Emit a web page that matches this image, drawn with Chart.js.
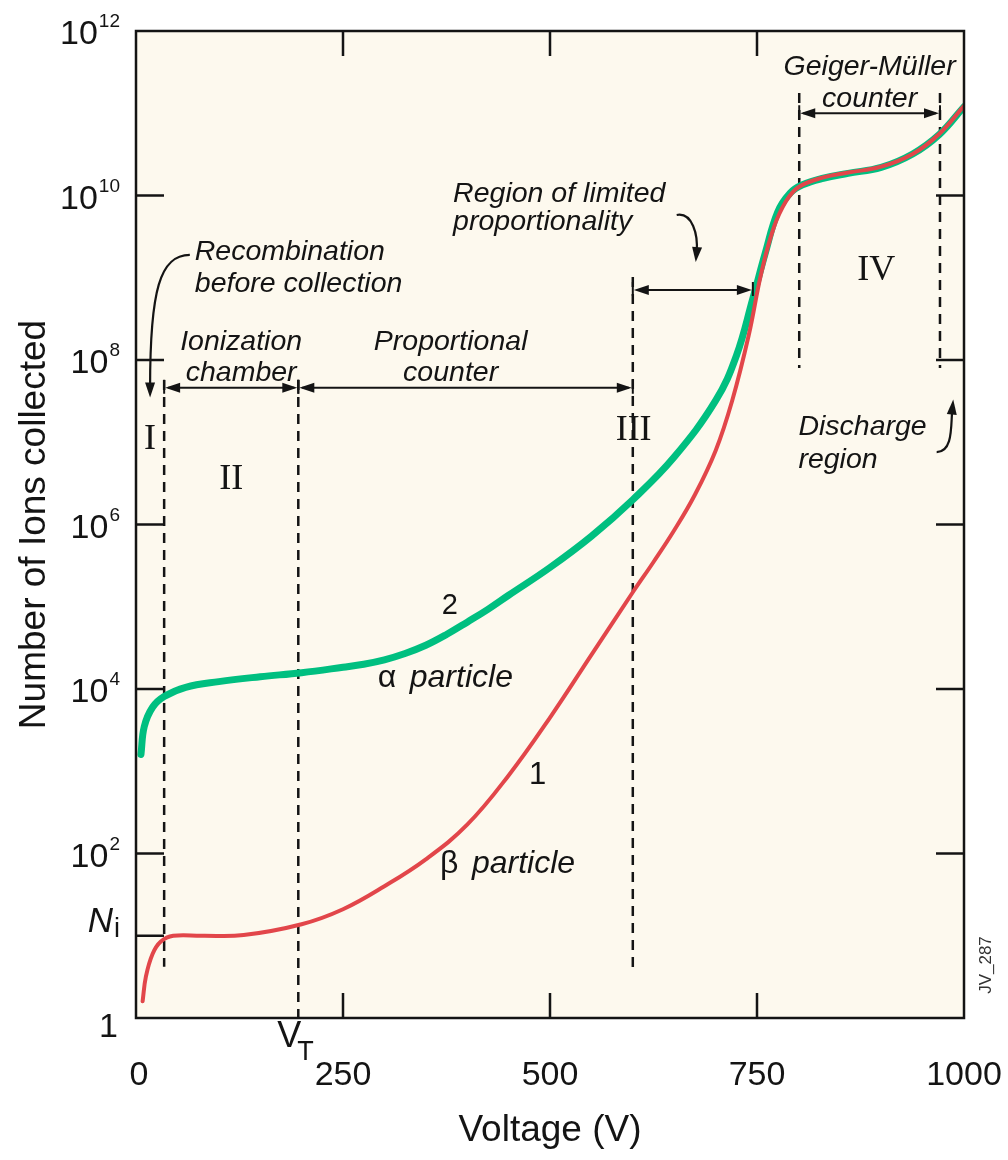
<!DOCTYPE html>
<html>
<head>
<meta charset="utf-8">
<script src="https://cdn.jsdelivr.net/npm/chart.js@4/dist/chart.umd.min.js"></script>
<style>
  html, body { margin: 0; padding: 0; background: #fff; }
  #chart { display: block; }
</style>
</head>
<body>
<canvas id="chart" width="1008" height="1160"></canvas>
<script>
// ---- data (voltage in V, number of ion pairs) ----
const betaVolts = [8, 12, 20, 30, 45, 80, 130, 200, 250, 300, 350, 400, 450, 500, 550, 600, 625, 650, 675, 700, 720, 740, 755, 770, 785, 800, 830, 860, 900, 938, 970, 1000];
const betaIons  = [1.6, 3.2, 6.0, 8.5, 10, 10, 10.2, 13.8, 21, 40, 85, 224, 890, 4.5e3, 2.6e4, 1.5e5, 3.5e5, 8.5e5, 2.3e6, 7.9e6, 3.2e7, 2.0e8, 1.12e9, 4.0e9, 8.5e9, 1.26e10, 1.66e10, 1.9e10, 2.24e10, 3.2e10, 5.6e10, 1.23e11];

const alphaVolts = [6, 10, 20, 34, 60, 100, 150, 200, 250, 275, 300, 325, 350, 375, 400, 425, 450, 500, 550, 600, 650, 700, 725, 745, 760, 775, 790, 805, 830, 860, 900, 938, 970, 1000];
const alphaIons  = [1.6e3, 3.5e3, 6.0e3, 8.1e3, 1.05e4, 1.23e4, 1.41e4, 1.58e4, 1.84e4, 2.0e4, 2.26e4, 2.7e4, 3.4e4, 4.6e4, 6.5e4, 9.3e4, 1.38e5, 3.0e5, 7.2e5, 2.0e6, 6.6e6, 3.2e7, 1.12e8, 5.6e8, 2.0e9, 6.3e9, 1.07e10, 1.35e10, 1.62e10, 1.86e10, 2.2e10, 3.2e10, 5.5e10, 1.2e11];

// axis ticks
const voltTicks = [0, 250, 500, 750, 1000];
const voltMarks = [250, 500, 750];
const ionTicks = [1, 10, 1e2, 1e4, 1e6, 1e8, 1e10, 1e12];
const ionTickBase = ['1', 'N', '10', '10', '10', '10', '10', '10'];
const ionTickExp  = ['', '', '2', '4', '6', '8', '10', '12'];
const ionMarksLeft  = [10, 1e2, 1e4, 1e6, 1e8, 1e10];
const ionMarksRight = [1e2, 1e4, 1e6, 1e8, 1e10];
const thresholdVolt = 196;

// region boundaries (dashed) and span arrows
const boundaryVolts = [34, 196, 600, 801, 971];
const boundaryLow   = [4.2, 1, 3.5, 8e7, 8e7];
const boundaryHigh  = [5.7e7, 5.7e7, 1.02e9, 1.76e11, 1.76e11];
const spanFrom = [34, 196, 600, 801];
const spanTo   = [196, 600, 745, 971];
const spanIons = [4.6e7, 4.6e7, 7.1e8, 1.0e11];

const numerals     = ['I', 'II', 'III', 'IV'];
const numeralVolts = [17, 115, 601, 894];
const numeralIons  = [1.07e7, 3.5e6, 1.4e7, 1.24e9];

const notes = [
  { text: 'Recombination', v: 71, n: 1.64e9, align: 'left' },
  { text: 'before collection', v: 71, n: 6.7e8, align: 'left' },
  { text: 'Ionization', v: 127, n: 1.32e8, align: 'center' },
  { text: 'chamber', v: 127, n: 5.6e7, align: 'center' },
  { text: 'Proportional', v: 380, n: 1.32e8, align: 'center' },
  { text: 'counter', v: 380, n: 5.6e7, align: 'center' },
  { text: 'Region of limited', v: 383, n: 8.3e9, align: 'left' },
  { text: 'proportionality', v: 383, n: 3.8e9, align: 'left' },
  { text: 'Geiger-Müller', v: 886, n: 2.9e11, align: 'center' },
  { text: 'counter', v: 886, n: 1.19e11, align: 'center' },
  { text: 'Discharge', v: 800, n: 1.22e7, align: 'left' },
  { text: 'region', v: 800, n: 4.9e6, align: 'left' }
];

// curved pointer arrows: start, control 1, control 2, tip  ([volt, ions])
const pointers = [
  [[65, 1.9e9], [29, 1.9e9], [17, 7.1e8], [17, 3.5e7]],
  [[653, 5.8e9], [672, 6.3e9], [679, 3.3e9], [676, 1.55e9]],
  [[967, 7.6e6], [987, 7.6e6], [984, 1.62e7], [987, 3.3e7]]
];

const RED = '#e2464a';
const GREEN = '#00bf80';
const INK = '#141414';
const SANS = '"Liberation Sans", Arial, sans-serif';
const SERIF = '"Liberation Serif", "Times New Roman", serif';

function arrowHead(ctx, x, y, angle, len, half) {
  ctx.save();
  ctx.translate(x, y);
  ctx.rotate(angle);
  ctx.beginPath();
  ctx.moveTo(0, 0);
  ctx.lineTo(-len, -half);
  ctx.lineTo(-len, half);
  ctx.closePath();
  ctx.fill();
  ctx.restore();
}

const annotations = {
  id: 'annotations',
  beforeDraw(chart) {
    const { ctx, chartArea: a } = chart;
    ctx.save();
    ctx.fillStyle = '#fdf9ee';
    ctx.fillRect(a.left, a.top, a.right - a.left, a.bottom - a.top);
    ctx.restore();
  },
  beforeDatasetsDraw(chart) {
    const { ctx } = chart;
    const X = v => chart.scales.x.getPixelForValue(v);
    const Y = n => chart.scales.y.getPixelForValue(n);
    ctx.save();
    ctx.strokeStyle = INK;
    ctx.lineWidth = 2.5;
    ctx.setLineDash([10, 7]);
    for (let i = 0; i < boundaryVolts.length; i++) {
      ctx.beginPath();
      ctx.moveTo(X(boundaryVolts[i]), Y(boundaryHigh[i]));
      ctx.lineTo(X(boundaryVolts[i]), Y(boundaryLow[i]));
      ctx.stroke();
    }
    ctx.restore();
  },
  afterDraw(chart) {
    const { ctx, chartArea: a } = chart;
    const X = v => chart.scales.x.getPixelForValue(v);
    const Y = n => chart.scales.y.getPixelForValue(n);
    ctx.save();
    ctx.fillStyle = INK;
    ctx.strokeStyle = INK;

    // span arrows
    ctx.lineWidth = 2;
    for (let i = 0; i < spanFrom.length; i++) {
      const x1 = X(spanFrom[i]), x2 = X(spanTo[i]), y = Y(spanIons[i]);
      ctx.beginPath();
      ctx.moveTo(x1 + 4, y);
      ctx.lineTo(x2 - 4, y);
      ctx.stroke();
      arrowHead(ctx, x1 + 1, y, Math.PI, 15, 5);
      arrowHead(ctx, x2 - 1, y, 0, 15, 5);
      ctx.beginPath();
      ctx.moveTo(x1, y - 8); ctx.lineTo(x1, y + 6);
      ctx.moveTo(x2, y - 8); ctx.lineTo(x2, y + 6);
      ctx.stroke();
    }

    // curved pointers
    ctx.lineWidth = 2.2;
    pointers.forEach(p => {
      const pts = p.map(q => [X(q[0]), Y(q[1])]);
      const ang = Math.atan2(pts[3][1] - pts[2][1], pts[3][0] - pts[2][0]);
      const endX = pts[3][0] - Math.cos(ang) * 10, endY = pts[3][1] - Math.sin(ang) * 10;
      ctx.beginPath();
      ctx.moveTo(pts[0][0], pts[0][1]);
      ctx.bezierCurveTo(pts[1][0], pts[1][1], pts[2][0], pts[2][1], endX, endY);
      ctx.stroke();
      arrowHead(ctx, pts[3][0], pts[3][1], ang, 15, 5);
    });

    // annotation text
    ctx.font = 'italic 28.5px ' + SANS;
    ctx.textBaseline = 'alphabetic';
    notes.forEach(t => {
      ctx.textAlign = t.align;
      ctx.fillText(t.text, X(t.v), Y(t.n));
    });

    // roman numerals
    ctx.font = '36px ' + SERIF;
    ctx.textAlign = 'center';
    ctx.textBaseline = 'middle';
    numerals.forEach((s, i) => ctx.fillText(s, X(numeralVolts[i]), Y(numeralIons[i])));

    // curve labels
    ctx.font = '29px ' + SANS;
    ctx.fillText('2', X(379), Y(1.02e5));
    ctx.font = '31px ' + SANS;
    ctx.fillText('1', X(485), Y(880));
    ctx.textAlign = 'left';
    ctx.textBaseline = 'alphabetic';
    [['α', 292, 1.05e4], ['β', 367, 58]].forEach(c => {
      const x0 = X(c[1]), y0 = Y(c[2]);
      ctx.font = '32px ' + SANS;
      ctx.fillText(c[0], x0, y0);
      ctx.font = 'italic 32px ' + SANS;
      ctx.fillText('particle', x0 + 32, y0);
    });

    // frame
    ctx.lineWidth = 2.5;
    ctx.strokeRect(a.left, a.top, a.right - a.left, a.bottom - a.top);

    // inner tick marks
    ctx.beginPath();
    ionMarksLeft.forEach(n => { ctx.moveTo(a.left, Y(n)); ctx.lineTo(a.left + 28, Y(n)); });
    ionMarksRight.forEach(n => { ctx.moveTo(a.right, Y(n)); ctx.lineTo(a.right - 28, Y(n)); });
    voltMarks.forEach(v => {
      ctx.moveTo(X(v), a.bottom); ctx.lineTo(X(v), a.bottom - 25);
      ctx.moveTo(X(v), a.top); ctx.lineTo(X(v), a.top + 25);
    });
    ctx.stroke();

    // y tick labels
    const labRight = a.left - 16;
    ionTicks.forEach((n, i) => {
      const y = Y(n);
      if (ionTickBase[i] === 'N') {
        ctx.font = '27px ' + SANS;
        ctx.textAlign = 'right';
        ctx.fillText('i', labRight, y + 1);
        const w = ctx.measureText('i').width;
        ctx.font = 'italic 35px ' + SANS;
        ctx.fillText('N', labRight - w - 1, y - 4);
      } else if (ionTickExp[i] === '') {
        ctx.font = '34px ' + SANS;
        ctx.textAlign = 'right';
        ctx.fillText(ionTickBase[i], labRight - 2, y + 19);
      } else {
        ctx.font = '19px ' + SANS;
        ctx.textAlign = 'right';
        ctx.fillText(ionTickExp[i], labRight, y - 4);
        const w = ctx.measureText(ionTickExp[i]).width;
        ctx.font = '34px ' + SANS;
        ctx.fillText(ionTickBase[i], labRight - w - 1, y + 13);
      }
    });

    // x tick labels
    ctx.font = '34px ' + SANS;
    ctx.textAlign = 'center';
    voltTicks.forEach(v => ctx.fillText(String(v), X(v) + (v === 0 ? 3 : 0), a.bottom + 67));

    // threshold voltage label
    const xt = X(thresholdVolt);
    ctx.font = '36px ' + SANS;
    ctx.textAlign = 'right';
    ctx.fillText('V', xt + 3, a.bottom + 29);
    ctx.font = '27px ' + SANS;
    ctx.textAlign = 'left';
    ctx.fillText('T', xt - 1, a.bottom + 42);

    // axis titles
    ctx.font = '37px ' + SANS;
    ctx.textAlign = 'center';
    ctx.fillText('Voltage (V)', (a.left + a.right) / 2, a.bottom + 123);
    ctx.save();
    ctx.translate(35, (a.top + a.bottom) / 2);
    ctx.rotate(-Math.PI / 2);
    ctx.textBaseline = 'middle';
    ctx.fillText('Number of Ions collected', 0, 0);
    ctx.restore();

    // figure id
    ctx.save();
    ctx.translate(986, 965);
    ctx.rotate(-Math.PI / 2);
    ctx.font = '17px ' + SANS;
    ctx.textAlign = 'center';
    ctx.textBaseline = 'middle';
    ctx.fillStyle = '#333';
    ctx.fillText('JV_287', 0, 0);
    ctx.restore();

    ctx.restore();
  }
};

new Chart(document.getElementById('chart'), {
  type: 'line',
  data: {
    datasets: [
      {
        label: 'β particle',
        data: betaVolts.map((v, i) => ({ x: v, y: betaIons[i] })),
        borderColor: RED,
        borderWidth: 4,
        pointRadius: 0,
        fill: false,
        tension: 0.4,
        borderCapStyle: 'round'
      },
      {
        label: 'α particle',
        data: alphaVolts.map((v, i) => ({ x: v, y: alphaIons[i] })),
        borderColor: GREEN,
        borderWidth: 7,
        pointRadius: 0,
        fill: false,
        tension: 0.4,
        borderCapStyle: 'round'
      }
    ]
  },
  options: {
    responsive: false,
    animation: false,
    layout: { padding: { left: 136, right: 44, top: 31, bottom: 142 } },
    plugins: { legend: { display: false }, tooltip: { enabled: false } },
    scales: {
      x: { type: 'linear', min: 0, max: 1000, display: false },
      y: { type: 'logarithmic', min: 1, max: 1e12, display: false }
    }
  },
  plugins: [annotations]
});
</script>
</body>
</html>
